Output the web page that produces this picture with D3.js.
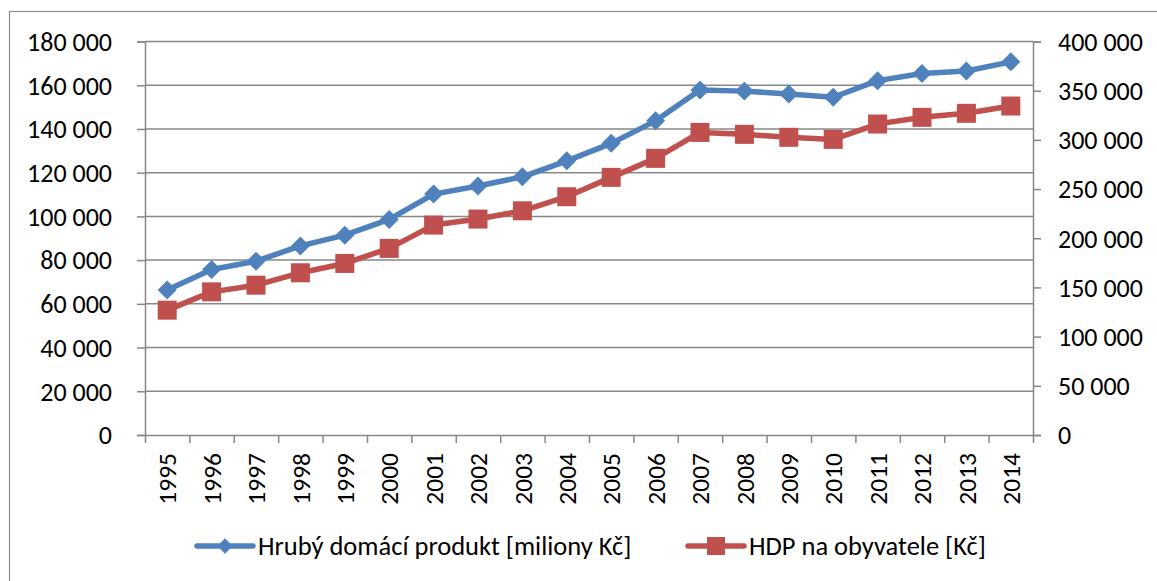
<!DOCTYPE html>
<html>
<head>
<meta charset="utf-8">
<script src="https://cdn.jsdelivr.net/npm/d3@7"></script>
<style>
  html, body { margin: 0; padding: 0; background: #fff; }
  svg { display: block; }
  text { font-family: Carlito, Calibri, Lato, "Open Sans", sans-serif; fill: #000; }
</style>
</head>
<body>
<svg id="chart" width="1157" height="581"></svg>
<script>
const years = ["1995","1996","1997","1998","1999","2000","2001","2002","2003","2004","2005","2006","2007","2008","2009","2010","2011","2012","2013","2014"];
const gdp = [66300, 75700, 79500, 86500, 91400, 98600, 110200, 113900, 118100, 125400, 133400, 143700, 157800, 157300, 156000, 154500, 162100, 165400, 166500, 170700];
const gdpPerCapita = [126900, 145500, 152300, 164900, 174400, 189700, 213400, 219500, 227900, 242200, 261900, 281200, 307600, 305600, 302600, 300500, 316100, 322900, 327000, 334400];
const leftTicks = [0, 20000, 40000, 60000, 80000, 100000, 120000, 140000, 160000, 180000];
const rightTicks = [0, 50000, 100000, 150000, 200000, 250000, 300000, 350000, 400000];
const seriesNames = ["Hrubý domácí produkt [miliony Kč]", "HDP na obyvatele [Kč]"];

const blue = "#4F81BD", red = "#C0504D", grid = "#878787";
const svg = d3.select("#chart");
const L = 145, R = 1033, T = 41.5, B = 435;

const fmt = v => d3.format(",")(v).replace(/,/g, " ");

// outer border
svg.append("rect").attr("x", 9.5).attr("y", 11.5).attr("width", 1200).attr("height", 620)
  .attr("fill", "none").attr("stroke", "#8a8a8a").attr("stroke-width", 1.2);

const x = d3.scaleBand().domain(years).range([L, R]).padding(0);
const xi = d3.scaleLinear().domain([0, years.length]).range([L, R]);
const yL = d3.scaleLinear().domain([0, 180000]).range([B, T]);
const yR = d3.scaleLinear().domain([0, 400000]).range([B, T]);

// gridlines
svg.append("g").selectAll("line").data(leftTicks.filter(d => d > 0)).join("line")
  .attr("x1", L).attr("x2", R).attr("y1", d => yL(d)).attr("y2", d => yL(d))
  .attr("stroke", grid).attr("stroke-width", 1.5);

// left axis
const gl = svg.append("g").attr("transform", `translate(${L},0)`)
  .call(d3.axisLeft(yL).tickValues(leftTicks).tickFormat(fmt).tickSize(8).tickPadding(25));
gl.select(".domain").attr("stroke", grid).attr("stroke-width", 1.5);
gl.selectAll(".tick line").attr("stroke", grid).attr("stroke-width", 1.5);
gl.selectAll(".tick text").attr("font-size", 26).attr("dy", "0.34em").style("font-family", null);

// right axis
const gr = svg.append("g").attr("transform", `translate(${R},0)`)
  .call(d3.axisRight(yR).tickValues(rightTicks).tickFormat(fmt).tickSize(8).tickPadding(17));
gr.select(".domain").attr("stroke", grid).attr("stroke-width", 1.5);
gr.selectAll(".tick line").attr("stroke", grid).attr("stroke-width", 1.5);
gr.selectAll(".tick text").attr("font-size", 26).attr("dy", "0.34em").style("font-family", null);

// bottom axis ticks at band boundaries
const gb = svg.append("g").attr("transform", `translate(0,${B})`)
  .call(d3.axisBottom(xi).tickValues(d3.range(years.length + 1)).tickFormat("").tickSize(8).tickSizeOuter(0));
gb.select(".domain").attr("stroke", grid).attr("stroke-width", 1.5);
gb.selectAll(".tick line").attr("stroke", grid).attr("stroke-width", 1.5);

// bottom labels (rotated)
svg.append("g").selectAll("text").data(years).join("text")
  .attr("transform", d => `translate(${x(d) + x.bandwidth() / 2},${B + 18}) rotate(-90)`)
  .attr("text-anchor", "end").attr("dy", "0.36em").attr("font-size", 25.5)
  .text(d => d);

// lines
const lineL = d3.line().x((d, i) => x(years[i]) + x.bandwidth() / 2).y(d => yL(d));
const lineR = d3.line().x((d, i) => x(years[i]) + x.bandwidth() / 2).y(d => yR(d));

svg.append("path").datum(gdp).attr("d", lineL).attr("fill", "none")
  .attr("stroke", blue).attr("stroke-width", 5.5).attr("stroke-linejoin", "round");
svg.append("path").datum(gdpPerCapita).attr("d", lineR).attr("fill", "none")
  .attr("stroke", red).attr("stroke-width", 5.5).attr("stroke-linejoin", "round");

const diamond = d3.symbol().type(d3.symbolDiamond2).size(230);
svg.append("g").selectAll("path").data(gdp).join("path")
  .attr("transform", (d, i) => `translate(${x(years[i]) + x.bandwidth() / 2},${yL(d)})`)
  .attr("d", diamond).attr("fill", blue);

svg.append("g").selectAll("rect").data(gdpPerCapita).join("rect")
  .attr("x", (d, i) => x(years[i]) + x.bandwidth() / 2 - 9.5)
  .attr("y", d => yR(d) - 9.5)
  .attr("width", 19).attr("height", 19).attr("fill", red);

// legend
const legend = svg.append("g");
const items = [
  { name: seriesNames[0], color: blue, shape: "diamond", x0: 197 },
  { name: seriesNames[1], color: red, shape: "square", x0: 688 }
];
const ly = 546;
items.forEach(it => {
  const g = legend.append("g").attr("transform", `translate(${it.x0},${ly})`);
  g.append("line").attr("x1", 0).attr("x2", 56).attr("y1", 0).attr("y2", 0)
    .attr("stroke", it.color).attr("stroke-width", 5.5).attr("stroke-linecap", "round");
  if (it.shape === "diamond") {
    g.append("path").attr("transform", "translate(28,0)")
      .attr("d", d3.symbol().type(d3.symbolDiamond2).size(150)).attr("fill", it.color);
  } else {
    g.append("rect").attr("x", 28 - 9).attr("y", -9).attr("width", 18).attr("height", 18).attr("fill", it.color);
  }
  g.append("text").attr("x", 61).attr("y", 0).attr("dy", "0.34em")
    .attr("font-size", 26.5).text(it.name);
});
</script>
</body>
</html>
